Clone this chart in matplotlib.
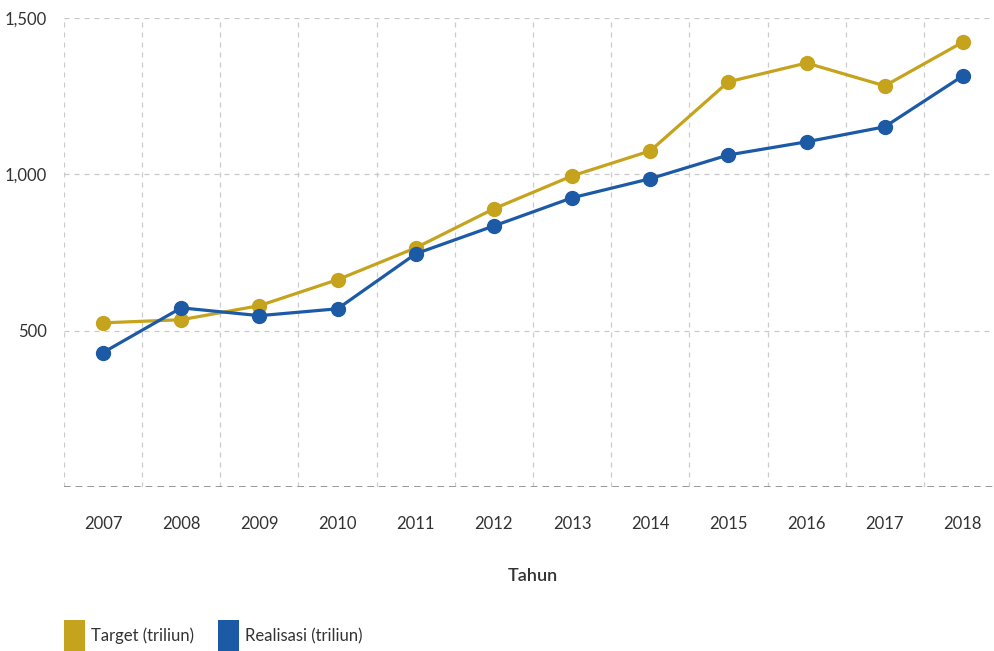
import matplotlib
matplotlib.use('Agg')
import matplotlib.pyplot as plt
from matplotlib.patches import Rectangle
from matplotlib.ticker import FuncFormatter, FixedLocator

plt.rcParams['font.family'] = ['Lato', 'DejaVu Sans']

years = ['2007', '2008', '2009', '2010', '2011', '2012',
         '2013', '2014', '2015', '2016', '2017', '2018']
target = [525, 535, 580, 663, 765, 890, 995, 1075, 1296, 1356, 1283, 1423]
realisasi = [430, 573, 548, 570, 746, 835, 925, 986, 1062, 1104, 1152, 1315]
series_names = ['Target (triliun)', 'Realisasi (triliun)']

gold = '#C6A31C'
blue = '#1D5AA6'
txt = '#333333'

fig = plt.figure(figsize=(9.95, 6.51), dpi=100)
ax = fig.add_axes([64/995, 164/651, 938/995, 469/651])

x = range(len(years))
ax.plot(x, target, color=gold, lw=2.3, marker='o', ms=10, zorder=3)
ax.plot(x, realisasi, color=blue, lw=2.3, marker='o', ms=10, zorder=4)

ax.set_xlim(-0.5, len(years) - 0.5)
ax.set_ylim(0, 1500)

# gridlines
ax.xaxis.set_minor_locator(FixedLocator([i - 0.5 for i in range(len(years) + 1)]))
ax.grid(which='minor', axis='x', color='#cccccc', ls=(0, (4, 4)), lw=0.9)
ax.yaxis.set_major_locator(FixedLocator([0, 500, 1000, 1500]))
ax.grid(which='major', axis='y', color='#c8c8c8', ls=(0, (4, 4)), lw=0.9)
ax.axhline(0, color='#888888', ls=(0, (4, 3)), lw=1.2, zorder=2)

for s in ax.spines.values():
    s.set_visible(False)

ax.set_xticks(list(x))
ax.set_xticklabels(years)
ax.yaxis.set_major_formatter(FuncFormatter(lambda v, p: '' if v == 0 else f'{int(v):,}'))
ax.tick_params(axis='x', which='both', length=0, pad=21, labelsize=12, labelcolor=txt)
ax.tick_params(axis='y', which='both', length=0, pad=12, labelsize=12, labelcolor=txt)

fig.text(533/995, 1 - 576/651, 'Tahun', ha='center', va='center',
         fontsize=13, fontweight='semibold', color=txt)

# legend
for xl, col, name in [(64, gold, series_names[0]), (218, blue, series_names[1])]:
    fig.add_artist(Rectangle((xl/995, 0), 21/995, 31/651, transform=fig.transFigure,
                             facecolor=col, edgecolor='none'))
    fig.text((xl + 27)/995, 1 - 636/651, name, ha='left', va='center',
             fontsize=12, color=txt)

fig.savefig('out.png', dpi=100)
